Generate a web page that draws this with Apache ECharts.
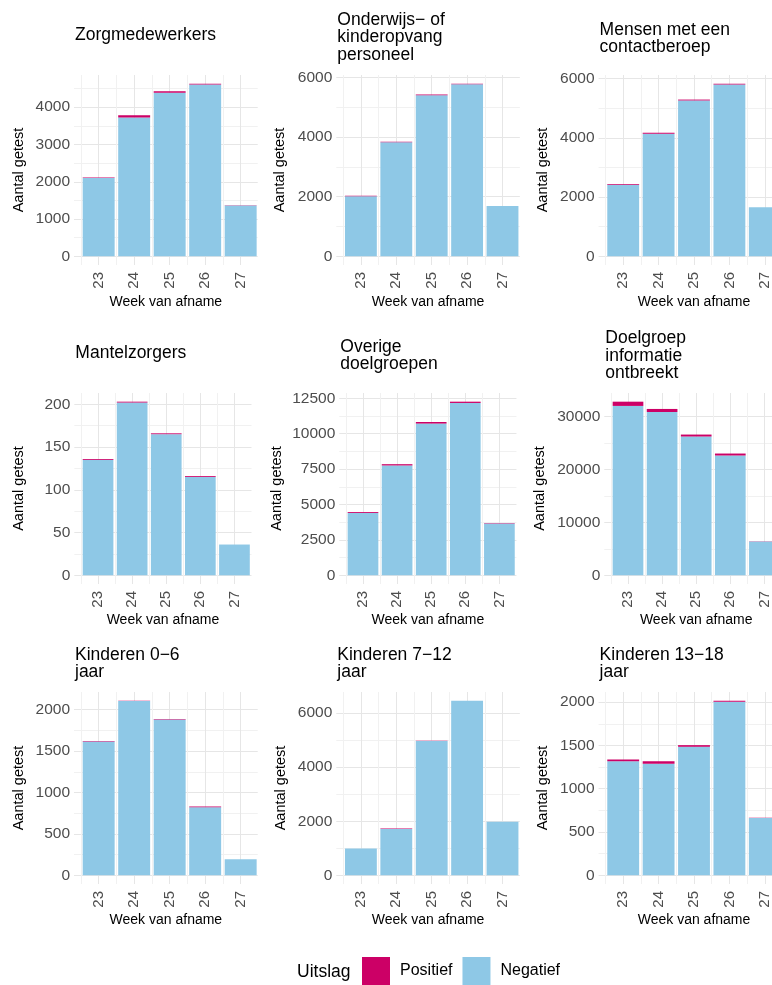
<!DOCTYPE html>
<html><head><meta charset="utf-8">
<script src="https://cdn.jsdelivr.net/npm/echarts@6/dist/echarts.min.js"></script>
<style>html,body{margin:0;padding:0;overflow:hidden;background:#fff}#c{width:800px;height:985px}</style>
</head><body><div id="c"></div>
<script>
// ---- data ----
const weeks = [23, 24, 25, 26, 27];
const seriesNames = ['Positief', 'Negatief'];
const legendTitle = 'Uitslag';
const xTitle = 'Week van afname';
const yTitle = 'Aantal getest';

const titleZorg = 'Zorgmedewerkers';
const zorgNeg = [2100, 3720, 4388, 4605, 1363];
const zorgPos = [16, 65, 40, 25, 6];
const zorgTicks = [0, 1000, 2000, 3000, 4000];

const titleOnderwijs = 'Onderwijs\u2212 of\nkinderopvang\npersoneel';
const onderwijsNeg = [2015, 3828, 5402, 5768, 1685];
const onderwijsPos = [15, 15, 20, 20, 4];
const onderwijsTicks = [0, 2000, 4000, 6000];

const titleContact = 'Mensen met een\ncontactberoep';
const contactNeg = [2418, 4140, 5262, 5805, 1655];
const contactPos = [25, 30, 30, 25, 5];
const contactTicks = [0, 2000, 4000, 6000];

const titleMantel = 'Mantelzorgers';
const mantelNeg = [135, 202, 165, 115, 36];
const mantelPos = [1, 1, 1, 1, 0];
const mantelTicks = [0, 50, 100, 150, 200];

const titleOverige = 'Overige\ndoelgroepen';
const overigeNeg = [4400, 7760, 10720, 12175, 3660];
const overigePos = [65, 90, 110, 90, 30];
const overigeTicks = [0, 2500, 5000, 7500, 10000, 12500];

const titleDoel = 'Doelgroep\ninformatie\nontbreekt';
const doelNeg = [31950, 30800, 26180, 22600, 6360];
const doelPos = [800, 580, 370, 370, 40];
const doelTicks = [0, 10000, 20000, 30000];

const titleK06 = 'Kinderen 0\u22126\njaar';
const k06Neg = [1617, 2105, 1883, 822, 194];
const k06Pos = [6, 4, 4, 9, 0];
const k06Ticks = [0, 500, 1000, 1500, 2000];

const titleK712 = 'Kinderen 7\u221212\njaar';
const k712Neg = [987, 1708, 4965, 6455, 1977];
const k712Pos = [3, 25, 10, 5, 3];
const k712Ticks = [0, 2000, 4000, 6000];

const titleK1318 = 'Kinderen 13\u221218\njaar';
const k1318Neg = [1317, 1289, 1484, 2004, 662];
const k1318Pos = [19, 27, 19, 12, 3];
const k1318Ticks = [0, 500, 1000, 1500, 2000];

const panels = [
  {title: titleZorg, neg: zorgNeg, pos: zorgPos, ticks: zorgTicks},
  {title: titleOnderwijs, neg: onderwijsNeg, pos: onderwijsPos, ticks: onderwijsTicks},
  {title: titleContact, neg: contactNeg, pos: contactPos, ticks: contactTicks},
  {title: titleMantel, neg: mantelNeg, pos: mantelPos, ticks: mantelTicks},
  {title: titleOverige, neg: overigeNeg, pos: overigePos, ticks: overigeTicks},
  {title: titleDoel, neg: doelNeg, pos: doelPos, ticks: doelTicks},
  {title: titleK06, neg: k06Neg, pos: k06Pos, ticks: k06Ticks},
  {title: titleK712, neg: k712Neg, pos: k712Pos, ticks: k712Ticks},
  {title: titleK1318, neg: k1318Neg, pos: k1318Pos, ticks: k1318Ticks}
];

// ---- layout / style ----
const FONT = '"Liberation Sans", Arial, Helvetica, sans-serif';
const BLUE = '#8EC8E6';
const RED = '#CC0066';
const MAJOR = '#e6e6e6';
const MINOR = '#f1f1f1';
const X_MIN = 22.305;
const layout = [
  {left: 74.0,  unit: 35.5, xMax: 27.48,  top: 75,  h: 190, ty: 26.25, yGap: 47.5,  xGap: 30},
  {left: 336.3, unit: 35.4, xMax: 27.49,  top: 75,  h: 190, ty: 11.25, yGap: 48.5,  xGap: 30},
  {left: 598.6, unit: 35.4, xMax: 27.695, top: 75,  h: 190, ty: 21.25, yGap: 48,    xGap: 30},
  {left: 74.35, unit: 34.1, xMax: 27.5,   top: 393, h: 191, ty: 344.5, yGap: 47.5,  xGap: 29},
  {left: 339.3, unit: 34.1, xMax: 27.5,   top: 393, h: 191, ty: 338,   yGap: 55.3,  xGap: 29},
  {left: 604.3, unit: 34.1, xMax: 27.695, top: 393, h: 191, ty: 329.5, yGap: 57,    xGap: 29},
  {left: 74.0,  unit: 35.5, xMax: 27.48,  top: 692, h: 192, ty: 646.25, yGap: 47.5, xGap: 29},
  {left: 336.3, unit: 35.4, xMax: 27.49,  top: 692, h: 192, ty: 646.25, yGap: 48,   xGap: 29},
  {left: 598.6, unit: 35.4, xMax: 27.695, top: 692, h: 192, ty: 646.25, yGap: 48,   xGap: 29}
];

const grid = [], xAxis = [], yAxis = [], series = [], title = [];
panels.forEach((p, i) => {
  const L = layout[i];
  const totals = p.neg.map((v, k) => v + p.pos[k]);
  const M = Math.max(...totals);
  const yMin = -0.05 * M, yMax = 1.05 * M;
  const step = p.ticks[1] - p.ticks[0];
  const yLines = [];
  for (let v = 0; v <= yMax; v += step / 2) yLines.push(v);
  const xLines = [];
  for (let v = 22.5; v < L.xMax - 0.01; v += 0.5) xLines.push(v);

  grid.push({left: L.left, top: L.top, width: L.unit * (L.xMax - X_MIN), height: L.h, containLabel: false});
  title.push({
    text: p.title, left: L.left + 1, top: L.ty, padding: 0,
    textStyle: {fontFamily: FONT, fontSize: 17.5, lineHeight: 17.5, fontWeight: 'normal', color: '#000'}
  });
  xAxis.push({
    type: 'value', gridIndex: i, min: X_MIN, max: L.xMax,
    name: xTitle, nameLocation: 'middle', nameGap: L.xGap,
    nameTextStyle: {fontFamily: FONT, fontSize: 14, color: '#000'},
    axisLine: {show: false, onZero: false},
    axisTick: {show: false, customValues: xLines},
    axisLabel: {customValues: weeks, rotate: 90, margin: 7, fontFamily: FONT, fontSize: 15, color: '#4d4d4d',
      formatter: v => String(v)},
    splitLine: {show: true, lineStyle: {color: [MINOR, MAJOR], width: 1}}
  });
  yAxis.push({
    type: 'value', gridIndex: i, min: yMin, max: yMax,
    name: yTitle, nameLocation: 'middle', nameRotate: 90, nameGap: L.yGap,
    nameTextStyle: {fontFamily: FONT, fontSize: 14.5, color: '#000'},
    axisLine: {show: false},
    axisTick: {show: false, customValues: yLines},
    axisLabel: {customValues: p.ticks, margin: 4, fontFamily: FONT, fontSize: 15.5, color: '#4d4d4d',
      formatter: v => String(v)},
    splitLine: {show: true, lineStyle: {color: [MAJOR, MINOR], width: 1}}
  });
  // value first, week second, so that the stack is computed on the count dimension
  series.push({
    type: 'bar', name: seriesNames[1], xAxisIndex: i, yAxisIndex: i, stack: 's' + i,
    barWidth: '90%', encode: {x: 1, y: 0},
    data: weeks.map((w, k) => [p.neg[k], w]),
    itemStyle: {color: BLUE}, emphasis: {disabled: true}
  });
  series.push({
    type: 'bar', name: seriesNames[0], xAxisIndex: i, yAxisIndex: i, stack: 's' + i,
    barWidth: '90%', encode: {x: 1, y: 0},
    data: weeks.map((w, k) => [p.pos[k], w]),
    itemStyle: {color: RED}, emphasis: {disabled: true}
  });
});

title.push({
  text: legendTitle, left: 297, top: 963, padding: 0,
  textStyle: {fontFamily: FONT, fontSize: 17.5, fontWeight: 'normal', color: '#000'}
});

const chart = echarts.init(document.getElementById('c'), null, {renderer: 'canvas'});
chart.setOption({
  animation: false,
  backgroundColor: '#fff',
  title: title,
  legend: {
    data: seriesNames, left: 362, top: 957, padding: 0, icon: 'rect',
    itemWidth: 28, itemHeight: 28, itemGap: 10, selectedMode: false,
    textStyle: {fontFamily: FONT, fontSize: 16, color: '#000', padding: [0, 0, 0, 5]}
  },
  grid: grid, xAxis: xAxis, yAxis: yAxis, series: series
});
</script></body></html>
